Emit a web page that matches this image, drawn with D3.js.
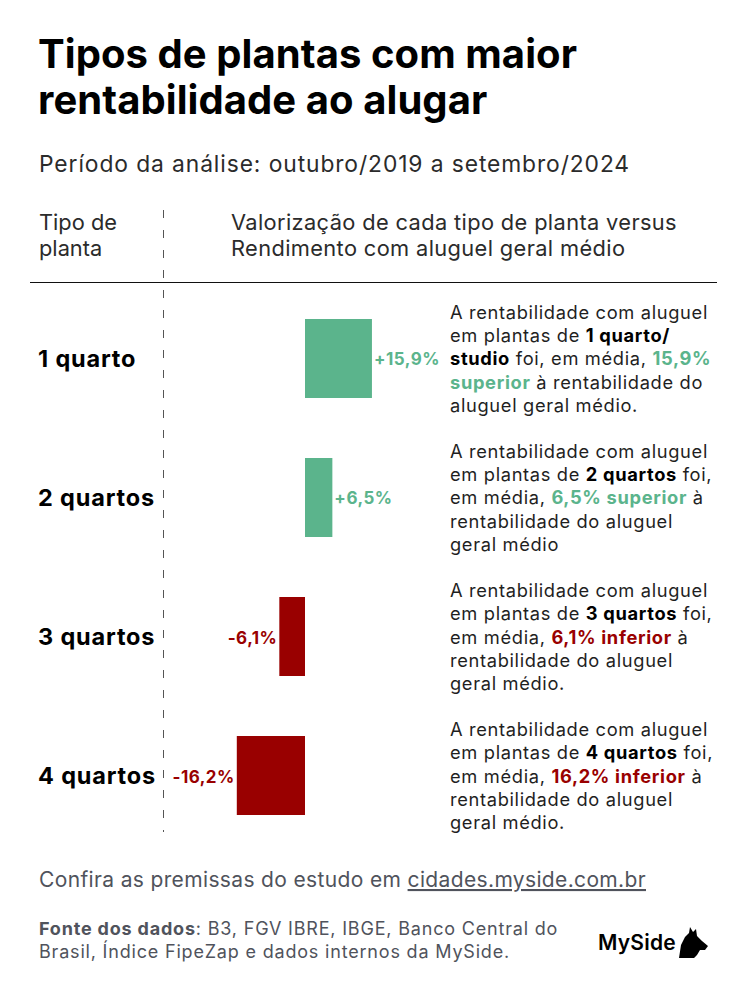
<!DOCTYPE html>
<html>
<head>
<meta charset="utf-8">
<script src="https://cdn.jsdelivr.net/npm/d3@7"></script>
<style>
  html, body { margin: 0; padding: 0; background: #fff; }
  svg { display: block; font-family: Inter, "Noto Sans", sans-serif; }
</style>
</head>
<body>
<div id="chart"></div>
<script>
// ---------- DATA ----------
const categories = ["1 quarto", "2 quartos", "3 quartos", "4 quartos"];
const values = [15.9, 6.5, -6.1, -16.2];
const valueLabels = ["+15,9%", "+6,5%", "-6,1%", "-16,2%"];
// Rich annotation text: each line is a list of [text, style] segments (n = normal, b = bold, g = bold positive, r = bold negative)
const notes = [
  [[["A rentabilidade com aluguel", "n"]],
   [["em plantas de ", "n"], ["1 quarto/", "b"]],
   [["studio", "b"], [" foi, em média, ", "n"], ["15,9%", "g"]],
   [["superior", "g"], [" à rentabilidade do", "n"]],
   [["aluguel geral médio.", "n"]]],
  [[["A rentabilidade com aluguel", "n"]],
   [["em plantas de ", "n"], ["2 quartos", "b"], [" foi,", "n"]],
   [["em média, ", "n"], ["6,5% superior", "g"], [" à", "n"]],
   [["rentabilidade do aluguel", "n"]],
   [["geral médio", "n"]]],
  [[["A rentabilidade com aluguel", "n"]],
   [["em plantas de ", "n"], ["3 quartos", "b"], [" foi,", "n"]],
   [["em média, ", "n"], ["6,1% inferior", "r"], [" à", "n"]],
   [["rentabilidade do aluguel", "n"]],
   [["geral médio.", "n"]]],
  [[["A rentabilidade com aluguel", "n"]],
   [["em plantas de ", "n"], ["4 quartos", "b"], [" foi,", "n"]],
   [["em média, ", "n"], ["16,2% inferior", "r"], [" à", "n"]],
   [["rentabilidade do aluguel", "n"]],
   [["geral médio.", "n"]]]
];
const titleLines = ["Tipos de plantas com maior", "rentabilidade ao alugar"];
const subtitle = "Período da análise: outubro/2019 a setembro/2024";
const headLeft = ["Tipo de", "planta"];
const headRight = ["Valorização de cada tipo de planta versus", "Rendimento com aluguel geral médio"];

// ---------- SETUP ----------
const W = 747, H = 998;
const GREEN = "#5bb48c", RED = "#990000", TXT = "#1f1f1f", GREY = "#50535c";

const svg = d3.select("#chart").append("svg").attr("width", W).attr("height", H);
svg.append("rect").attr("width", W).attr("height", H).attr("fill", "#fff");

// Set letter-spacing on a selection so that a reference node reaches a target width
function track(sel, refNode, target) {
  const w = refNode.getComputedTextLength();
  const n = refNode.textContent.length;
  sel.attr("letter-spacing", (target - w) / n);
}

// Title
const title = svg.append("g").selectAll("text").data(titleLines).join("text")
  .attr("x", 38).attr("y", (d, i) => 68 + i * 46)
  .attr("font-size", 40).attr("font-weight", 700)
  .attr("fill", "#000").text(d => d);
track(title, title.node(), 539);

const sub = svg.append("text").attr("x", 39).attr("y", 172)
  .attr("font-size", 22.8).attr("fill", "#2b2b2b").text(subtitle);
track(sub, sub.node(), 591);

// Headers
const hl = svg.append("g").selectAll("text").data(headLeft).join("text")
  .attr("x", 39).attr("y", (d, i) => 230 + i * 26)
  .attr("font-size", 21.8).attr("fill", "#2b2b2b").text(d => d);
const hr = svg.append("g").selectAll("text").data(headRight).join("text")
  .attr("x", 231).attr("y", (d, i) => 230 + i * 26)
  .attr("font-size", 21.8).attr("fill", "#2b2b2b").text(d => d);
track(hr, hr.node(), 446);
track(hl, hr.node(), 446);

// Header rule
svg.append("line").attr("x1", 30).attr("x2", 717).attr("y1", 282.5).attr("y2", 282.5)
  .attr("stroke", "#111").attr("stroke-width", 1.2);

// Dashed divider
svg.append("line").attr("x1", 163.5).attr("x2", 163.5).attr("y1", 210).attr("y2", 832)
  .attr("stroke", "#555").attr("stroke-width", 1).attr("stroke-dasharray", "8,12");

// Scales
const y = d3.scaleBand().domain(categories).range([289, 845])
  .paddingInner(0.4317).paddingOuter(0.2158);
const x = d3.scaleLinear().domain([-20, 20]).range([305 - 84.2, 305 + 84.2]);

const rows = svg.append("g").selectAll("g").data(categories).join("g");

// Category labels
const catLab = rows.append("text")
  .attr("x", 38).attr("y", d => y(d) + y.bandwidth() / 2 + 8.5)
  .attr("font-size", 23.5).attr("font-weight", 700).attr("fill", "#000")
  .text(d => d);
track(catLab, catLab.nodes()[1], 117);

// Bars
rows.append("rect")
  .attr("x", (d, i) => x(Math.min(0, values[i])))
  .attr("y", d => y(d))
  .attr("width", (d, i) => Math.abs(x(values[i]) - x(0)))
  .attr("height", y.bandwidth())
  .attr("fill", (d, i) => values[i] >= 0 ? GREEN : RED);

// Value labels
const valLab = rows.append("text")
  .attr("x", (d, i) => values[i] >= 0 ? x(values[i]) + 2 : x(values[i]) - 2)
  .attr("y", d => y(d) + y.bandwidth() / 2 + 7)
  .attr("text-anchor", (d, i) => values[i] >= 0 ? "start" : "end")
  .attr("font-size", 17).attr("font-weight", 700)
  .attr("fill", (d, i) => values[i] >= 0 ? GREEN : RED)
  .text((d, i) => valueLabels[i]);
track(valLab, valLab.node(), 66);

// Notes
const styleFill = {n: TXT, b: "#000", g: GREEN, r: RED};
const noteTexts = [];
rows.each(function(d, i) {
  const g = d3.select(this);
  const cy = y(d) + y.bandwidth() / 2;
  const lh = 23.2;
  const n = notes[i].length;
  notes[i].forEach((line, li) => {
    const by = cy + 7 + (li - (n - 1) / 2) * lh;
    const t = g.append("text").attr("x", 450).attr("y", by)
      .attr("font-size", 18.3).attr("fill", TXT);
    line.forEach(seg => {
      t.append("tspan").text(seg[0])
        .attr("fill", styleFill[seg[1]])
        .attr("font-weight", seg[1] === "n" ? 400 : 700);
    });
    noteTexts.push(t.node());
  });
});
track(d3.selectAll(noteTexts), noteTexts[0], 258);

// Footer
const f1 = svg.append("text").attr("x", 39).attr("y", 887).attr("font-size", 21).attr("fill", GREY);
f1.append("tspan").text("Confira as premissas do estudo em ");
f1.append("tspan").text("cidades.myside.com.br").attr("text-decoration", "underline");
track(f1, f1.node(), 607);

const f2a = svg.append("text").attr("x", 39).attr("y", 935).attr("font-size", 18).attr("fill", GREY);
f2a.append("tspan").attr("font-weight", 700).text("Fonte dos dados");
f2a.append("tspan").text(": B3, FGV IBRE, IBGE, Banco Central do");
const f2b = svg.append("text").attr("x", 39).attr("y", 958).attr("font-size", 18).attr("fill", GREY)
  .text("Brasil, Índice FipeZap e dados internos da MySide.");
track(d3.selectAll([f2a.node(), f2b.node()]), f2b.node(), 471);

// Logo
const logo = svg.append("text").attr("x", 598).attr("y", 950).attr("font-size", 21).attr("font-weight", 600)
  .attr("fill", "#000").text("MySide");
track(logo, logo.node(), 78);
svg.append("path")
  .attr("d", "M679,958 L681,945 L685,937 L689,933 L690,927 L693,932 L696,929 L697,936 L702,941 L708,946 L705,950 L700,950 L697,955 L694,958 Z")
  .attr("fill", "#000");
</script>
</body>
</html>
